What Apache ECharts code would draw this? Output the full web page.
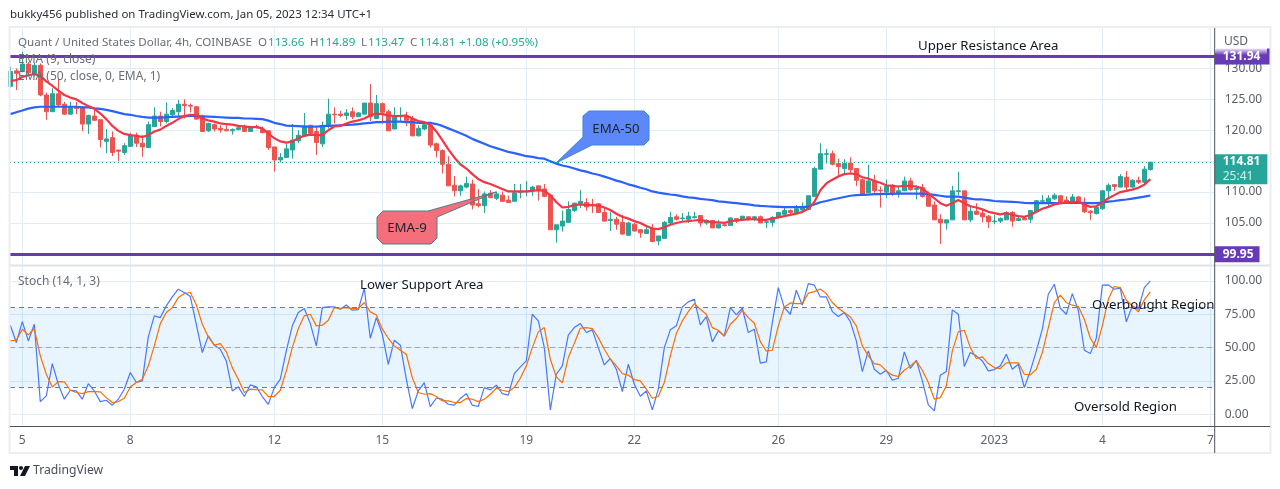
<!DOCTYPE html>
<html>
<head>
<meta charset="utf-8">
<title>QNT/USD 4h</title>
<script src="https://cdn.jsdelivr.net/npm/echarts@6/dist/echarts.min.js"></script>
<style>
  html, body { margin: 0; padding: 0; background: #fff; }
  #chart { width: 1280px; height: 489px; }
</style>
</head>
<body>
<div id="chart"></div>
<script>
// open, close, low, high of every 4h bar, ten bars a line
const ohlc = [
  [127.1,129.5,126.9,130.3],[129.6,129.2,126.5,130.0],[129.5,130.7,129.4,132.7],[130.7,129.3,128.9,131.0],[129.0,130.5,128.7,130.9],[130.5,125.7,125.5,130.8],[125.7,123.0,121.7,126.1],[123.0,125.9,123.0,126.8],[125.9,124.1,123.9,128.4],[124.2,122.6,122.5,124.6],
  [122.6,123.8,122.5,124.6],[123.8,123.5,122.6,124.6],[123.7,121.0,119.8,123.9],[121.0,122.4,119.4,122.5],[122.3,121.6,121.6,123.5],[121.7,118.5,117.2,121.7],[118.2,118.6,116.3,120.2],[118.8,116.4,115.8,119.8],[116.8,116.6,115.0,116.8],[116.4,117.5,116.0,117.9],
  [117.4,119.2,117.3,119.6],[119.2,117.9,117.3,119.6],[117.9,117.3,115.7,119.2],[117.2,120.9,117.1,121.4],[120.6,122.3,120.5,123.7],[122.3,121.4,120.6,123.0],[121.4,122.6,121.1,124.5],[122.5,123.2,122.2,123.6],[123.0,124.2,122.1,124.9],[124.2,124.0,121.9,125.0],
  [124.0,123.9,122.9,124.3],[123.8,121.8,121.7,123.9],[122.1,119.8,119.8,122.5],[119.9,121.1,119.7,121.2],[120.9,120.2,119.8,121.1],[120.3,120.05,119.6,120.8],[120.1,119.9,119.9,120.8],[119.9,120.1,119.3,120.3],[120.1,120.4,120.0,120.7],[120.7,119.8,119.8,120.9],
  [119.8,120.5,119.7,120.7],[120.6,120.45,120.3,120.9],[120.1,119.6,119.5,120.6],[119.9,117.2,116.8,120.0],[117.3,115.2,113.3,117.3],[115.2,115.6,114.8,116.3],[115.6,117.0,115.5,117.9],[116.8,118.4,115.4,121.0],[118.3,119.2,117.9,120.0],[119.1,120.7,119.0,122.8],
  [120.8,119.5,119.1,120.8],[119.8,118.0,116.0,120.6],[117.8,120.8,117.3,121.4],[120.6,122.6,120.3,125.1],[122.6,122.5,121.1,123.7],[122.6,122.4,122.1,123.1],[122.4,122.8,121.7,123.4],[123.0,122.2,121.8,123.7],[122.2,122.8,122.1,122.9],[122.6,124.4,122.6,124.4],
  [124.4,122.2,121.5,127.5],[121.9,124.3,121.8,125.7],[124.3,122.9,121.1,124.5],[123.0,119.9,119.9,123.3],[120.2,122.2,120.2,123.7],[122.2,122.4,121.4,123.7],[122.3,121.6,120.7,123.0],[121.8,119.1,119.0,122.3],[119.1,120.3,119.0,120.8],[120.2,120.9,120.0,121.2],
  [120.8,117.6,117.2,121.4],[117.8,116.7,115.6,118.0],[116.7,114.5,113.0,116.9],[114.5,111.0,111.0,115.8],[111.1,110.2,109.3,112.6],[110.2,111.0,109.4,111.2],[110.8,111.4,110.6,112.5],[111.3,107.9,107.2,112.0],[108.1,107.8,107.5,110.5],[107.8,109.7,106.6,110.1],
  [109.8,109.1,109.0,110.3],[109.0,109.7,108.7,110.1],[109.5,108.5,108.5,110.1],[108.7,108.3,108.3,109.4],[108.5,109.9,108.5,111.3],[109.9,110.1,109.0,111.3],[110.0,110.1,109.3,111.8],[110.2,110.8,109.4,111.0],[111.0,110.2,108.6,111.0],[110.5,109.3,109.3,111.3],
  [109.5,103.9,103.9,109.5],[103.9,104.7,101.8,104.7],[104.5,105.3,103.6,107.0],[105.1,107.2,105.0,108.5],[107.0,108.2,106.8,108.3],[108.1,108.5,107.4,110.3],[108.3,107.6,107.0,109.0],[108.0,107.8,106.6,108.9],[108.1,106.7,106.6,108.2],[106.7,105.3,105.2,107.6],
  [105.4,105.6,103.7,106.8],[105.6,104.8,103.9,106.0],[105.1,103.2,103.1,106.3],[103.0,105.0,103.0,105.2],[104.8,103.7,103.6,105.0],[103.9,103.4,102.6,104.0],[103.3,103.9,103.3,104.7],[104.1,102.0,101.9,104.8],[102.1,102.9,101.4,102.9],[102.5,105.1,102.5,105.3],
  [105.0,105.9,104.8,106.8],[106.0,105.6,105.4,106.4],[105.7,105.8,105.2,106.6],[105.6,106.1,105.0,106.8],[105.9,106.0,105.7,106.8],[106.2,105.0,104.4,106.2],[105.0,105.4,104.7,105.6],[105.4,104.2,104.2,105.4],[104.2,104.8,104.1,105.5],[104.7,104.6,104.4,105.2],
  [104.6,105.8,104.6,105.9],[105.7,105.3,105.0,105.7],[105.5,106.1,105.5,106.1],[106.0,105.5,105.4,106.1],[105.7,106.0,105.3,106.1],[106.0,105.0,105.0,106.2],[105.1,105.2,104.2,105.4],[105.1,105.9,104.4,106.1],[105.9,106.7,105.7,106.7],[106.4,107.0,106.3,107.5],
  [107.0,106.7,106.4,107.2],[106.6,107.3,106.5,107.9],[107.1,107.6,106.9,108.3],[107.2,109.4,107.1,109.4],[109.3,113.8,109.2,114.1],[113.7,116.2,113.7,117.9],[116.1,116.2,114.6,117.0],[116.2,114.5,114.3,116.7],[114.6,114.1,112.5,115.4],[113.8,114.6,113.0,115.3],
  [114.7,113.6,113.0,115.6],[113.8,111.9,111.0,113.8],[112.0,109.7,109.7,112.2],[109.9,111.8,109.8,114.4],[111.8,110.2,109.9,112.8],[110.3,110.2,107.5,110.9],[110.0,110.9,109.0,112.0],[110.9,109.7,109.4,111.3],[109.8,110.2,109.1,110.9],[110.2,111.8,110.2,112.5],
  [111.8,110.4,110.2,112.3],[110.4,110.6,108.8,111.1],[110.7,109.3,109.1,111.3],[109.6,107.7,107.6,110.1],[107.9,105.5,105.5,108.5],[105.6,105.0,101.6,106.4],[105.0,105.5,103.9,105.5],[105.5,110.2,105.5,111.0],[110.1,110.2,109.5,113.3],[110.2,105.5,105.5,110.2],
  [105.5,106.9,105.1,107.6],[106.9,106.4,106.3,108.2],[106.6,106.0,105.1,107.1],[106.1,105.2,104.2,106.3],[105.2,105.3,104.8,106.3],[105.3,105.7,105.0,105.9],[105.5,106.7,105.5,106.9],[106.7,105.3,104.4,106.9],[105.4,105.7,105.3,106.0],[105.8,105.5,105.5,106.0],
  [105.6,107.0,105.0,107.1],[106.8,108.6,106.7,108.7],[108.5,108.6,108.1,109.5],[108.3,109.0,107.6,109.5],[108.9,109.5,108.7,109.8],[109.4,108.3,108.2,109.5],[108.7,108.3,108.1,109.3],[108.5,109.2,108.3,109.7],[109.2,108.3,108.3,109.4],[108.3,106.8,106.6,109.1],
  [106.9,106.7,105.5,107.1],[106.5,107.5,106.4,107.8],[107.3,110.2,107.1,110.3],[110.2,111.1,108.9,111.4],[111.2,110.9,110.2,111.2],[110.8,112.5,110.8,112.9],[112.4,110.8,110.3,113.4],[110.8,111.9,110.7,112.1],[111.9,111.6,111.3,112.5],[111.6,113.7,111.0,114.2],
  [113.66,114.81,113.47,114.89]
]

const ema9 = [
  128.0,128.1,128.6,128.9,129.1,128.8,127.9,127.2,126.4,125.7,
  125.3,125.0,124.4,123.9,123.5,122.7,121.8,120.7,119.9,119.4,
  119.2,119.1,118.9,119.2,119.8,120.1,120.7,121.2,121.8,122.3,
  122.5,122.4,121.9,121.6,121.4,121.1,121.0,120.9,120.7,120.6,
  120.5,120.5,120.3,119.5,118.7,118.2,118.0,118.2,118.7,119.1,
  119.3,119.2,119.2,120.0,120.6,120.7,121.1,121.4,121.6,121.9,
  122.4,122.7,122.6,122.4,122.3,122.3,122.4,121.9,121.5,121.3,
  120.9,119.8,118.4,116.9,115.6,114.5,113.8,112.9,112.1,111.6,
  111.3,110.9,110.5,110.1,110.1,110.1,110.1,110.2,110.3,110.2,
  109.5,108.4,107.5,107.6,107.9,108.0,107.9,107.9,107.8,107.5,
  107.1,106.5,106.0,105.7,105.3,105.0,104.5,104.1,104.0,104.3,
  104.7,105.0,105.2,105.3,105.4,105.5,105.3,105.1,105.1,105.0,
  105.3,105.4,105.5,105.6,105.6,105.5,105.5,105.7,105.9,106.1,
  106.3,106.5,106.8,107.3,108.4,110.3,111.4,112.0,112.5,112.9,
  113.0,112.9,112.4,112.2,111.8,111.5,111.1,111.0,110.9,111.0,
  111.0,110.9,110.6,109.8,109.0,108.2,107.8,108.2,108.7,108.2,
  107.7,107.5,107.2,106.8,106.6,106.4,106.6,106.3,106.1,106.0,
  106.3,106.8,107.3,107.6,108.0,108.2,108.3,108.4,108.4,108.0,
  107.6,107.7,108.3,109.0,109.5,110.0,110.2,110.4,110.7,111.2,
  112.1
]

const ema50 = [
  122.6,122.9,123.2,123.5,123.7,123.8,123.8,123.8,123.8,123.8,
  123.8,123.8,123.7,123.7,123.55,123.45,123.3,123.1,122.85,122.6,
  122.5,122.3,122.15,122.05,122.05,122.05,122.1,122.15,122.2,122.25,
  122.3,122.3,122.25,122.2,122.15,122.1,122.05,122.0,122.0,121.9,
  121.9,121.85,121.8,121.55,121.2,121.0,120.75,120.7,120.65,120.6,
  120.6,120.6,120.65,120.7,120.75,120.8,120.85,120.9,121.0,121.1,
  121.2,121.3,121.3,121.4,121.4,121.4,121.3,121.3,121.2,121.2,
  121.2,121.0,120.7,120.3,119.9,119.5,119.1,118.6,118.2,117.8,
  117.4,117.1,116.8,116.5,116.3,116.05,115.8,115.7,115.5,115.4,
  115.0,114.6,114.3,114.1,113.8,113.5,113.3,113.0,112.8,112.5,
  112.2,111.85,111.6,111.25,111.0,110.7,110.45,110.1,109.9,109.75,
  109.6,109.5,109.3,109.15,109.05,108.9,108.8,108.7,108.5,108.4,
  108.3,108.2,108.1,108.0,107.85,107.75,107.7,107.65,107.6,107.55,
  107.55,107.55,107.55,107.65,108.0,108.35,108.55,108.8,109.0,109.2,
  109.4,109.5,109.55,109.6,109.65,109.65,109.7,109.7,109.75,109.75,
  109.75,109.75,109.75,109.65,109.55,109.4,109.25,109.25,109.25,109.1,
  108.95,108.8,108.8,108.7,108.55,108.5,108.45,108.4,108.35,108.25,
  108.2,108.2,108.2,108.2,108.2,108.2,108.25,108.25,108.3,108.25,
  108.2,108.2,108.3,108.45,108.55,108.7,108.8,108.95,109.1,109.25,
  109.45
]

const stochK = [
  66.8,53.8,69.5,55,67.5,9.5,13.8,38,22.5,11.3,
  18,17.5,11.3,23,17.5,9.5,10.5,6.8,11.3,18.8,
  31.3,23.8,25,58,73.8,72.5,81.3,88,93.8,91.3,
  88.3,67.5,46.3,58.8,51.8,48.8,40,17.5,20.5,13.3,
  22,20.5,13.3,7.5,20,26.3,47.5,66.3,76.3,79.3,
  68,51.3,80,80.5,80.5,78.8,82,78,78.5,94.5,
  57,72.5,60,37.5,55.5,51.8,26.3,4.3,17.5,23.8,
  5.8,12,11.3,7.5,6.8,11.8,15.5,6.8,5.8,20,
  18.3,21.8,15.5,14.3,30.5,35.5,40,75,70,50,
  3.3,30,36.3,59.3,65,68,61.3,63.3,50,37,
  41.8,33.8,17,37.5,22.5,13.5,17.5,3.3,18.8,50,
  63.3,66.3,80.5,84.3,86.3,67,73.3,54.3,62.5,58.8,
  80,74.5,79.5,61.3,63.8,38.3,39.3,68.8,95,80,
  75,93,81.8,98,96.8,88,88,77,73.3,76.3,
  69.5,55,32,47.5,33.8,30,33,25.5,27,46.8,
  34.5,40.5,25,7,2.5,29.3,32,78.3,75,35.8,
  46.3,43.8,40,32.5,33.5,36.3,45,33.8,37.5,20,
  32.5,47.5,63.8,90,97.5,79.5,75,90.5,78,48,
  45.5,57,96.8,97,93.8,94.5,69.3,81.3,78.8,95,
  100
]

const stochD = [
  55,55.5,63.8,59.5,64.3,43.8,30,20.5,24.5,24.3,
  18,16.3,15.5,17,17,16.8,12.5,8.8,9.5,12,
  20.5,23.8,26.3,36.3,51.3,68,76.3,80,87.5,90.5,
  91.3,82,67.5,58,51.8,53,46.8,35,26.3,16.3,
  18.8,18.5,18.3,13.3,13.3,18,32.5,50,64.3,73.8,
  75,66.3,66.8,70.5,80,79.5,80,79.3,79.3,83.8,
  76.8,74.5,63.8,57,51.3,48,45,27.5,16.3,15,
  15.5,13.3,10,10,8.8,8.8,11.8,11.3,9.5,11.3,
  15,19.5,18,17,20,27,36.3,50,61.8,65,
  41.3,28,23.5,42.5,53.3,64.5,65,64.3,57.5,48.8,
  41.3,36.3,30.5,29.3,26,25,18.8,12,13.3,23.8,
  43.8,60.5,70,77,83,78.8,75,65,63,58.5,
  67.5,71.8,78,72.5,68.3,54.5,47.3,48,66.3,80.5,
  83.5,83,83,90.8,92,94,90.5,83.8,79.5,76.3,
  73,66.3,51.3,43.8,38,37,32.5,29.3,28.3,33,
  36.3,40,33,23.8,11.3,12.5,21.3,47.5,61.8,63,
  50,41.8,43,38,35,34.3,38.5,38.5,38.5,30,
  29.5,33.8,46.3,65,83.8,89.3,83.8,81.8,80.8,71.3,
  57,50,66.3,86.3,95.8,95,85.5,81.3,76.8,85.8,
  91.8
]

// date labels sit on these bar numbers, 7 is past the last bar
const dateTicks = [2, 20, 44, 62, 86, 104, 128, 146, 164, 182, 200]
const dateLabels = ['5', '8', '12', '15', '19', '22', '26', '29', '2023', '4', '7']
const priceTicks = [105, 110, 115, 120, 125, 130]
const stochTicks = [0, 25, 50, 75, 100]

const resistance = 131.94
const support = 99.95
const lastPrice = 114.81
const countdown = '25:41'

const fontName = '"Noto Sans", sans-serif'
const upColor = '#26a69a'
const downColor = '#ef5350'
const purple = '#673ab7'
const gridColor = '#e3edf5'
const axisDark = '#50535e'
const axisText = '#5d606b'

const candles = ohlc.map((d, i) => [i, d[0], d[1], d[2], d[3]])
const indexed = (list) => list.map((v, i) => [i, v])

function text(x, y, str, font, fill, align) {
  return {
    type: 'text',
    z: 50,
    silent: true,
    style: { x, y: y + 1, text: str, font: font + ' ' + fontName, fill, align: align || 'left', verticalAlign: 'middle' }
  }
}
function line(x1, y1, x2, y2, stroke, width) {
  return { type: 'line', z: 40, silent: true, shape: { x1, y1, x2, y2 }, style: { stroke, lineWidth: width } }
}
// speech bubble: body with cut corners plus a tail to the tip
function bubble(points, fill, stroke) {
  return { type: 'polygon', z: 45, silent: true, shape: { points }, style: { fill, stroke, lineWidth: 1 } }
}

const legendGrey = '#6a6d78'
const annoColor = '#131722'
const tealText = '#22ab94'
const annoFont = '13.25px'

const graphics = [
  // frame and pane separators
  { type: 'rect', z: 39, silent: true, shape: { x: 9.5, y: 27, width: 1261, height: 426 }, style: { fill: 'none', stroke: '#eceef4', lineWidth: 2 } },
  line(10, 265.5, 1270, 265.5, '#e0e3eb', 2),
  line(1214.7, 28, 1214.7, 453, axisDark, 1),
  line(10, 426.5, 1270, 426.5, axisDark, 1),

  text(10, 14, 'bukky456 published on TradingView.com, Jan 05, 2023 12:34 UTC+1', '11.5px', '#2a2e39'),
  text(18, 42, 'Quant / United States Dollar, 4h, COINBASE', '11.6px', legendGrey),
  text(258, 42, 'O', '11.6px', legendGrey),
  text(268, 42, '113.66', '11.6px', tealText),
  text(310, 42, 'H', '11.6px', legendGrey),
  text(319, 42, '114.89', '11.6px', tealText),
  text(361, 42, 'L', '11.6px', legendGrey),
  text(368, 42, '113.47', '11.6px', tealText),
  text(410, 42, 'C', '11.6px', legendGrey),
  text(419, 42, '114.81', '11.6px', tealText),
  text(459, 42, '+1.08 (+0.95%)', '11.6px', tealText),
  text(18, 59, 'EMA (9, close)', '12px', legendGrey),
  text(18, 76, 'EMA (50, close, 0, EMA, 1)', '12px', legendGrey),
  text(18, 281, 'Stoch (14, 1, 3)', '12px', legendGrey),
  text(1224, 41, 'USD', '12px', axisText),

  text(918, 45, 'Upper Resistance Area', annoFont, annoColor),
  text(360, 284, 'Lower Support Area', annoFont, annoColor),
  text(1092, 304, 'Overbought Region', annoFont, annoColor),
  text(1074, 406, 'Oversold Region', annoFont, annoColor),

  bubble([[589, 111], [644, 111], [649, 116], [649, 140], [644, 145], [592, 145], [556, 163], [583, 137], [583, 116]], 'rgba(70,120,250,0.88)', '#3d85d0'),
  text(616, 128, 'EMA-50', annoFont, '#1e222d', 'center'),
  bubble([[383, 211], [428, 211], [496, 192], [437, 217], [437, 238], [431, 244], [383, 244], [377, 238], [377, 217]], 'rgba(242,90,105,0.88)', '#4a7f8c'),
  text(407, 227, 'EMA-9', annoFont, '#1e222d', 'center'),

  // fade at the top of the resistance badge
  {
    type: 'rect', z: 60, silent: true,
    shape: { x: 1215, y: 48, width: 52, height: 7 },
    style: { fill: new echarts.graphic.LinearGradient(0, 0, 0, 1, [{ offset: 0, color: 'rgba(255,255,255,0.95)' }, { offset: 1, color: 'rgba(255,255,255,0)' }]) }
  },

  // TradingView logo
  { type: 'polygon', z: 50, silent: true, shape: { points: [[10, 466], [18, 466], [18, 476], [14, 476], [14, 470], [10, 470]] }, style: { fill: '#131722' } },
  { type: 'circle', z: 50, silent: true, shape: { cx: 21, cy: 468, r: 2 }, style: { fill: '#131722' } },
  { type: 'polygon', z: 50, silent: true, shape: { points: [[25, 466], [30, 466], [25, 476], [20, 476]] }, style: { fill: '#131722' } },
  text(33, 470, 'TradingView', '12.2px', '#4a4e5a')
]

const chart = echarts.init(document.getElementById('chart'), null, { renderer: 'canvas' })

const option = {
  animation: false,
  backgroundColor: '#fff',
  textStyle: { fontFamily: fontName },
  grid: [
    { left: 10, width: 1204.7, top: 27, height: 238 },
    { left: 10, width: 1204.7, top: 266, height: 160 }
  ],
  xAxis: [0, 1].map((g) => ({
    type: 'value',
    gridIndex: g,
    min: -0.05,
    max: 200.73,
    axisLine: { show: false, onZero: false },
    axisTick: { show: false, customValues: dateTicks },
    splitLine: { show: true, lineStyle: { color: gridColor, width: 1 } },
    axisLabel: g === 0 ? { show: false } : {
      show: true,
      customValues: dateTicks,
      margin: 9,
      color: axisText,
      fontSize: 12,
      fontFamily: fontName,
      formatter: (v) => dateLabels[dateTicks.indexOf(v)]
    }
  })),
  yAxis: [
    {
      type: 'value',
      gridIndex: 0,
      position: 'right',
      min: 98.2,
      max: 136.7,
      axisLine: { show: false },
      axisTick: { show: false, customValues: priceTicks },
      splitLine: { show: true, lineStyle: { color: gridColor, width: 1 } },
      axisLabel: { customValues: priceTicks, margin: 10, padding: [2, 0, 0, 0], color: axisText, fontSize: 12, fontFamily: fontName, formatter: (v) => v.toFixed(2) }
    },
    {
      type: 'value',
      gridIndex: 1,
      position: 'right',
      min: -8.8,
      max: 111.2,
      axisLine: { show: false },
      axisTick: { show: false, customValues: stochTicks },
      splitLine: { show: true, lineStyle: { color: gridColor, width: 1 } },
      axisLabel: { customValues: stochTicks, margin: 10, padding: [2, 0, 0, 0], color: axisText, fontSize: 12, fontFamily: fontName, formatter: (v) => v.toFixed(2) }
    }
  ],
  series: [
    {
      type: 'candlestick',
      xAxisIndex: 0,
      yAxisIndex: 0,
      data: candles,
      encode: { x: 0, y: [1, 2, 3, 4] },
      barWidth: 4,
      itemStyle: { color: upColor, color0: downColor, borderColor: upColor, borderColor0: downColor, borderWidth: 1 },
      markLine: {
        silent: true,
        symbol: 'none',
        animation: false,
        data: [
          {
            yAxis: resistance,
            lineStyle: { color: purple, width: 3, type: 'solid' },
            label: { show: true, position: 'end', distance: 0, formatter: resistance.toFixed(2), color: '#fff', fontSize: 12, fontWeight: 'bold', fontFamily: fontName, backgroundColor: purple, padding: [2, 10, 2, 8] }
          },
          {
            yAxis: support,
            lineStyle: { color: purple, width: 3, type: 'solid' },
            label: { show: true, position: 'end', distance: 0, formatter: support.toFixed(2), color: '#fff', fontSize: 12, fontWeight: 'bold', fontFamily: fontName, backgroundColor: purple, padding: [2, 6, 2, 8] }
          },
          {
            yAxis: lastPrice,
            lineStyle: { color: upColor, width: 1, type: [1, 3] },
            label: {
              show: true, position: 'end', distance: 0, offset: [0, 7],
              formatter: '{a|' + lastPrice.toFixed(2) + '}\n{b|' + countdown + '}',
              backgroundColor: upColor, padding: [0, 7, 0, 8],
              rich: {
                a: { color: '#fff', fontSize: 12, fontWeight: 'bold', fontFamily: fontName, height: 15 },
                b: { color: '#d4efec', fontSize: 12, fontFamily: fontName, height: 15 }
              }
            }
          }
        ]
      }
    },
    {
      type: 'line',
      name: 'EMA 50',
      xAxisIndex: 0,
      yAxisIndex: 0,
      data: indexed(ema50),
      showSymbol: false,
      lineStyle: { color: '#2962ff', width: 2.2 }
    },
    {
      type: 'line',
      name: 'EMA 9',
      xAxisIndex: 0,
      yAxisIndex: 0,
      data: indexed(ema9),
      showSymbol: false,
      lineStyle: { color: '#f23645', width: 2.2 }
    },
    {
      type: 'line',
      name: '%K',
      xAxisIndex: 1,
      yAxisIndex: 1,
      data: indexed(stochK),
      showSymbol: false,
      lineStyle: { color: '#2962ff', width: 1.2, opacity: 0.85 },
      markArea: {
        silent: true,
        itemStyle: { color: 'rgba(33,150,243,0.1)' },
        data: [[{ yAxis: 80 }, { yAxis: 20 }]]
      },
      markLine: {
        silent: true,
        symbol: 'none',
        animation: false,
        label: { show: false },
        data: [
          { yAxis: 80, lineStyle: { color: '#787b86', width: 1, type: [5, 4] } },
          { yAxis: 50, lineStyle: { color: '#a3a6af', width: 1, type: [5, 4] } },
          { yAxis: 20, lineStyle: { color: '#787b86', width: 1, type: [5, 4] } }
        ]
      }
    },
    {
      type: 'line',
      name: '%D',
      xAxisIndex: 1,
      yAxisIndex: 1,
      data: indexed(stochD),
      showSymbol: false,
      lineStyle: { color: '#ff6d00', width: 1.2 }
    }
  ],
  graphic: { elements: graphics }
}

chart.setOption(option)
</script>
</body>
</html>
